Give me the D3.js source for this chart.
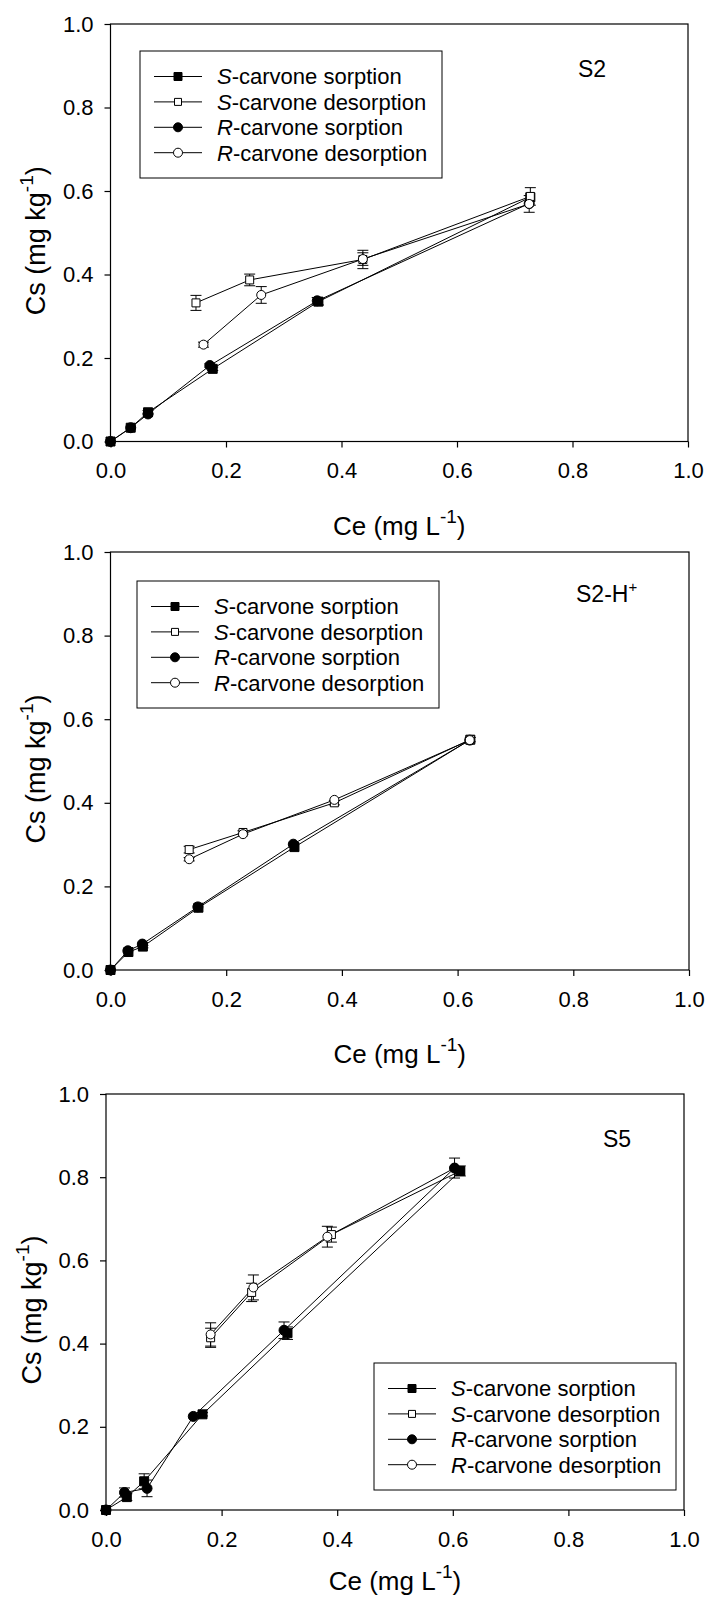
<!DOCTYPE html>
<html>
<head>
<meta charset="utf-8">
<script src="https://cdn.jsdelivr.net/npm/d3@7"></script>
<style>
body{margin:0;background:#fff;}
svg{display:block;}
</style>
</head>
<body>
<svg width="708" height="1611"></svg>
<script>
//刻度
var ticks = [0, 0.2, 0.4, 0.6, 0.8, 1.0];
//图例
var legendPrefix = ["S", "S", "R", "R"];
var legendRest = ["-carvone sorption", "-carvone desorption", "-carvone sorption", "-carvone desorption"];
var panelNames = ["S2", "S2-H", "S5"];
var panelSups = ["", "+", ""];

// [Ce, Cs, sd]
var s2SSorp = [[0,0,0],[0.035,0.033,0],[0.065,0.070,0.004],[0.177,0.174,0.004],[0.360,0.335,0.008],[0.727,0.585,0]];
var s2SDes  = [[0.727,0.587,0.021],[0.437,0.436,0.022],[0.241,0.387,0.014],[0.148,0.332,0.018]];
var s2RSorp = [[0,0,0],[0.035,0.033,0],[0.065,0.066,0],[0.172,0.182,0.004],[0.358,0.337,0.008],[0.725,0.570,0]];
var s2RDes  = [[0.725,0.569,0.020],[0.437,0.437,0.015],[0.261,0.351,0.020],[0.161,0.232,0.006]];

var s2hSSorp = [[0,0,0],[0.031,0.043,0],[0.056,0.056,0.003],[0.152,0.149,0],[0.318,0.294,0],[0.622,0.551,0]];
var s2hSDes  = [[0.622,0.551,0.005],[0.387,0.400,0.005],[0.229,0.329,0.004],[0.136,0.288,0.008]];
var s2hRSorp = [[0,0,0],[0.030,0.046,0],[0.055,0.062,0],[0.151,0.151,0],[0.316,0.301,0],[0.621,0.550,0]];
var s2hRDes  = [[0.621,0.550,0],[0.387,0.407,0],[0.229,0.325,0],[0.136,0.265,0.004]];

var s5SSorp = [[0,0,0],[0.036,0.031,0.008],[0.066,0.069,0.018],[0.167,0.230,0.004],[0.314,0.425,0.015],[0.613,0.815,0.012]];
var s5SDes  = [[0.613,0.815,0],[0.390,0.662,0.018],[0.252,0.523,0.022],[0.181,0.414,0.023]];
var s5RSorp = [[0,0,0],[0.032,0.042,0.011],[0.071,0.052,0.020],[0.151,0.225,0],[0.308,0.432,0.020],[0.603,0.822,0.024]];
var s5RDes  = [[0.603,0.822,0],[0.383,0.657,0.025],[0.255,0.535,0.030],[0.181,0.422,0.028]];

var font = "'Liberation Sans', Arial, sans-serif";
var svg = d3.select("svg").attr("font-family", font);
svg.append("rect").attr("width", 708).attr("height", 1611).attr("fill", "#fff");

//各子图位置
var panels = [
    {left:110.5, right:688, top:24, bottom:441.5, legX:140, legY:51, labX:578, labY:77, titleX:45, ceY:535, sorpOnTop:false,
     data:[s2SSorp, s2SDes, s2RSorp, s2RDes]},
    {left:110.5, right:689, top:552, bottom:970, legX:137, legY:581, labX:576, labY:602, titleX:45, ceY:1063, sorpOnTop:false,
     data:[s2hSSorp, s2hSDes, s2hRSorp, s2hRDes]},
    {left:106, right:684, top:1094, bottom:1510, legX:374, legY:1363, labX:603, labY:1147, titleX:41, ceY:1590, sorpOnTop:true,
     data:[s5SSorp, s5SDes, s5RSorp, s5RDes]}
];

var filled = [true, false, true, false];
function marker(i, legend){
    if(i < 2){
        var side = legend ? (i == 0 ? 8 : 7) : (i == 0 ? 9 : 8);
        return d3.symbol().type(d3.symbolSquare).size(side*side)();
    }
    var r = legend ? 4.5 : (i == 2 ? 5 : 4.5);
    return d3.symbol().type(d3.symbolCircle).size(Math.PI*r*r)();
}

panels.forEach((p, pi) => drawPanel(p, pi));

function drawPanel(p, pi){
    var g = svg.append("g").attr("class", "panel");
    var x = d3.scaleLinear().domain([0, 1]).range([p.left, p.right]);
    var y = d3.scaleLinear().domain([0, 1]).range([p.bottom, p.top]);

    //坐标轴
    g.append("g")
        .attr("transform", `translate(0,${p.bottom})`)
        .call(d3.axisBottom(x).tickValues(ticks).tickFormat(d3.format(".1f")).tickSize(6).tickPadding(15));
    g.append("g")
        .attr("transform", `translate(${p.left},0)`)
        .call(d3.axisLeft(y).tickValues(ticks).tickFormat(d3.format(".1f")).tickSize(6).tickPadding(11));
    g.selectAll(".domain").remove();
    g.selectAll(".tick line").attr("stroke", "#000").attr("stroke-width", 1.2);
    g.selectAll(".tick text").attr("fill", "#000").attr("font-size", 22).attr("font-family", font);

    //边框
    g.append("rect")
        .attr("x", p.left).attr("y", p.top)
        .attr("width", p.right - p.left).attr("height", p.bottom - p.top)
        .attr("fill", "none").attr("stroke", "#000").attr("stroke-width", 1.2);

    //折线
    var line = d3.line().x(d => x(d[0])).y(d => y(d[1]));
    p.data.forEach(s => {
        g.append("path").attr("d", line(s))
            .attr("fill", "none").attr("stroke", "#000").attr("stroke-width", 1);
    });

    //误差线
    p.data.forEach(s => {
        var eb = g.selectAll(null).data(s.filter(d => d[2] > 0)).enter().append("g")
            .attr("stroke", "#000").attr("stroke-width", 1);
        eb.append("line")
            .attr("x1", d => x(d[0])).attr("x2", d => x(d[0]))
            .attr("y1", d => y(d[1] - d[2])).attr("y2", d => y(d[1] + d[2]));
        [-1, 1].forEach(k => {
            eb.append("line")
                .attr("x1", d => x(d[0]) - 5.5).attr("x2", d => x(d[0]) + 5.5)
                .attr("y1", d => y(d[1] + k*d[2])).attr("y2", d => y(d[1] + k*d[2]));
        });
    });

    //数据点
    var order = p.sorpOnTop ? [1, 3, 0, 2] : [0, 2, 1, 3];
    order.forEach(i => {
        g.selectAll(null).data(p.data[i]).enter().append("path")
            .attr("transform", d => `translate(${x(d[0])},${y(d[1])})`)
            .attr("d", marker(i, false))
            .attr("fill", filled[i] ? "#000" : "#fff")
            .attr("stroke", "#000").attr("stroke-width", 1);
    });

    //图例
    var leg = g.append("g").attr("transform", `translate(${p.legX},${p.legY})`);
    leg.append("rect").attr("width", 302).attr("height", 127)
        .attr("fill", "#fff").attr("stroke", "#000").attr("stroke-width", 1);
    var rows = leg.selectAll(".row").data(legendRest).enter().append("g")
        .attr("transform", (d, i) => `translate(0,${25.5 + i*25.4})`);
    rows.append("line").attr("x1", 14).attr("x2", 62).attr("y1", 0).attr("y2", 0)
        .attr("stroke", "#000").attr("stroke-width", 1);
    rows.append("path")
        .attr("transform", "translate(38,0)")
        .attr("d", (d, i) => marker(i, true))
        .attr("fill", (d, i) => filled[i] ? "#000" : "#fff")
        .attr("stroke", "#000").attr("stroke-width", 1);
    var t = rows.append("text").attr("x", 77).attr("y", 7.8).attr("font-size", 22).attr("fill", "#000");
    t.append("tspan").attr("font-style", "italic").text((d, i) => legendPrefix[i]);
    t.append("tspan").text(d => d);

    //子图名称
    var lab = g.append("text").attr("x", p.labX).attr("y", p.labY).attr("font-size", 23).attr("fill", "#000");
    lab.append("tspan").text(panelNames[pi]);
    if(panelSups[pi]) lab.append("tspan").attr("font-size", 15).attr("dy", -10).text(panelSups[pi]);

    //坐标轴标题
    var yt = g.append("text")
        .attr("transform", `translate(${p.titleX},${(p.top + p.bottom)/2 + 8}) rotate(-90)`)
        .attr("text-anchor", "middle").attr("font-size", 27).attr("fill", "#000");
    yt.append("tspan").text("Cs (mg kg");
    yt.append("tspan").attr("font-size", 19).attr("dy", -12).text("-1");
    yt.append("tspan").attr("dy", 12).text(")");

    var xt = g.append("text")
        .attr("x", (p.left + p.right)/2).attr("y", p.ceY)
        .attr("text-anchor", "middle").attr("font-size", 26).attr("fill", "#000");
    xt.append("tspan").text("Ce (mg L");
    xt.append("tspan").attr("font-size", 19).attr("dy", -12).text("-1");
    xt.append("tspan").attr("dy", 12).text(")");
}
</script>
</body>
</html>
